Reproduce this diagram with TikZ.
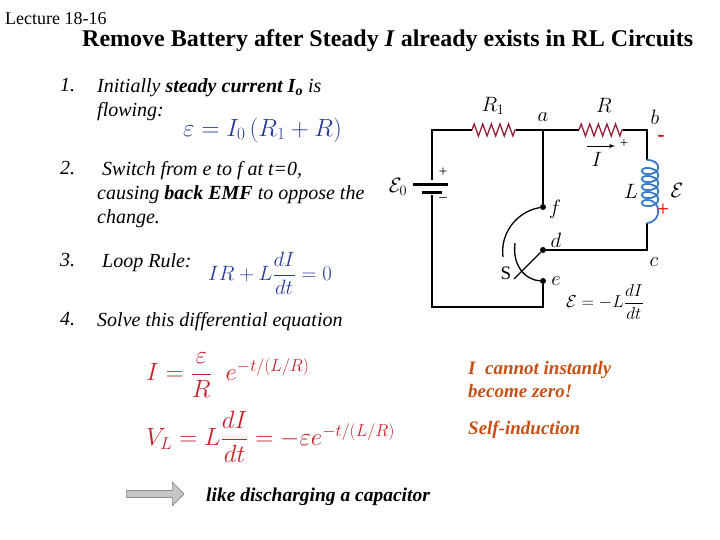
\documentclass[tikz,border=0pt]{standalone}
\usepackage{fontspec}
\setmainfont{Liberation Serif}
\usepackage{amsmath}
\usetikzlibrary{decorations.pathmorphing,shapes.arrows}
\definecolor{eqblue}{RGB}{40,60,150}
\definecolor{eqred}{RGB}{200,30,40}
\definecolor{orng}{RGB}{200,80,20}
\definecolor{maroon}{RGB}{150,30,60}
\definecolor{coil}{RGB}{60,120,200}
\tikzset{
  item/.style={anchor=north west,font=\fontsize{20}{24}\selectfont\itshape,align=left,inner sep=0},
  wire/.style={line width=1.3pt,black},
  res/.style={line width=1.3pt,maroon,decorate,decoration={zigzag,segment length=8.6pt,amplitude=6pt}},
  lab/.style={font=\fontsize{21}{21}\selectfont\itshape,inner sep=1pt},
  dot/.style={circle,fill=black,inner sep=0,minimum size=6pt},
}
\begin{document}
\begin{tikzpicture}[x=1pt,y=-1pt]
\useasboundingbox (0,0) rectangle (720,540);
\node[anchor=west,inner sep=0,font=\fontsize{18}{18}\selectfont] (lec) at (5,19) {Lecture 18-16};
\node[anchor=west,inner sep=0,font=\fontsize{24}{24}\selectfont\bfseries] (title) at (82,41) {Remove Battery after Steady \textit{I} already exists in RL Circuits};

\node[item] (n1) at (60,78) {1.};
\node[item] (t1) at (97,78) {Initially \textbf{steady current I\textsubscript{o}} is\\flowing:};
\node[anchor=west,text=eqblue,font=\fontsize{26}{26}\selectfont,inner sep=0] (e1) at (183,130) {$\varepsilon = I_0\left(R_1+R\right)$};
\node[item] (n2) at (60,161) {2.};
\node[item] (t2) at (97,161) {\ Switch from e to f at t=0,\\causing \textbf{back EMF} to oppose the\\change.};
\node[item] (n3) at (60,253) {3.};
\node[item] (t3) at (97,253) {\ Loop Rule:};
\node[anchor=west,text=eqblue,font=\fontsize{21}{21}\selectfont,inner sep=0] (e3) at (208,273) {$IR + L\dfrac{dI}{dt} = 0$};
\node[item] (n4) at (60,312) {4.};
\node[item] (t4) at (97,312) {Solve this differential equation};

\node[anchor=west,text=eqred,font=\fontsize{26}{26}\selectfont,inner sep=0] (e4) at (146,375) {$I = \dfrac{\varepsilon}{R}\;\; e^{-t/(L/R)}$};
\node[anchor=west,text=eqred,font=\fontsize{26}{26}\selectfont,inner sep=0] (e5) at (146,437) {$V_L = L\dfrac{dI}{dt} = -\varepsilon e^{-t/(L/R)}$};
\node[single arrow,draw=gray!70!black,fill=gray!45,minimum height=58pt,minimum width=24pt,single arrow head extend=3pt,inner sep=1pt,anchor=west] (arr) at (126,494) {};
\node[anchor=west,inner sep=0,font=\fontsize{19.5}{19.5}\selectfont\bfseries\itshape] (like) at (206,497) {like discharging a capacitor};
\node[anchor=north west,inner sep=0,align=left,text=orng,font=\fontsize{19}{23}\selectfont\bfseries\itshape] (nz) at (468,361) {I\ \ cannot instantly\\become zero!};
\node[anchor=north west,inner sep=0,text=orng,font=\fontsize{19}{23}\selectfont\bfseries\itshape] (si) at (468,421) {Self-induction};

% circuit
\coordinate (tl) at (432,130); \coordinate (bl) at (432,307);
\coordinate (r1a) at (472,130); \coordinate (r1b) at (516,130);
\coordinate (a) at (543,130);
\coordinate (ra) at (579,130); \coordinate (rb) at (623,130);
\coordinate (b) at (647,130);
\coordinate (la) at (647,160); \coordinate (lb) at (647,223);
\coordinate (c) at (647,250);
\coordinate (br) at (543,307);
\coordinate (bt1) at (432,180); \coordinate (bt2) at (432,195);
\node[dot] (f) at (543,207) {};
\node[dot] (d) at (543,250) {};
\node[dot] (e) at (543,281) {};
\draw[wire] (bt1) -- (tl) -- (r1a);
\draw[res] (r1a) -- (r1b);
\draw[wire] (r1b) -- (ra);
\draw[res] (ra) -- (rb);
\draw[wire] (rb) -- (b) -- (la);
\draw[wire] (lb) -- (c) -- (d);
\draw[wire] (a) -- (f);
\draw[wire] (e) -- (br) -- (bl) -- (bt2);
\draw[line width=3pt] (413,185) -- (448,185);
\draw[line width=3pt] (422,193) -- (442,193);
\draw[coil,line width=1.8pt] (la) .. controls (662,160) and (662,175) .. (647,174)
  .. controls (640,174) and (640,168) .. (647,168)
  .. controls (662,168) and (662,183) .. (647,182)
  .. controls (640,182) and (640,176) .. (647,176)
  .. controls (662,176) and (662,191) .. (647,190)
  .. controls (640,190) and (640,184) .. (647,184)
  .. controls (662,184) and (662,199) .. (647,198)
  .. controls (640,198) and (640,192) .. (647,192)
  .. controls (662,192) and (662,207) .. (647,206)
  .. controls (640,206) and (640,200) .. (647,200)
  .. controls (662,200) and (662,222) .. (lb);
% switch
\coordinate (sw) at (514,279);
\draw[line width=1.3pt] (d) -- (sw);
\draw[line width=1.3pt] (f) .. controls (515,212) and (500,235) .. (503,257);
\draw[line width=1.3pt] (515,243) .. controls (512,265) and (525,280) .. (e);
% labels
\node[lab,above=2pt] (lr1) at (493,118) {$R_1$};
\node[lab] (lR) at (604,105) {$R$};
\node[lab] (la1) at (543,117) {$a$};
\node[lab] (lbb) at (655,117) {$b$};
\node[lab] (lc) at (654,262) {$c$};
\node[lab] (ld) at (556,240) {$d$};
\node[lab] (lf) at (555,209) {$f$};
\node[lab] (le) at (556,281) {$e$};
\node[lab,font=\fontsize{19}{19}\selectfont] (lS) at (506,273) {S};
\node[lab] (lL) at (631,191) {$L$};
\node[lab] (lE) at (677,190) {$\mathcal{E}$};
\node[lab] (lE0) at (398,187) {$\mathcal{E}_0$};
\node[font=\fontsize{15}{15}\selectfont,inner sep=0] (pl) at (443,172) {+};
\node[font=\fontsize{15}{15}\selectfont,inner sep=0] (mn) at (443,200) {--};
\node[font=\fontsize{22}{22}\selectfont\bfseries,text=red,inner sep=0] (bm) at (661,138) {-};
\node[font=\fontsize{22}{22}\selectfont,text=red,inner sep=0] (cp) at (663,210) {+};
\coordinate (ia) at (587,146); \coordinate (ib) at (615,146);
\draw[-latex,line width=0.9pt] (ia) -- (ib);
\node[font=\fontsize{14}{14}\selectfont,inner sep=0] (ip) at (624,144) {+};
\node[lab] (lI) at (597,159) {$I$};
\node[anchor=west,inner sep=0,font=\fontsize{19}{19}\selectfont] (eL) at (566,302) {$\mathcal{E} = -L\dfrac{dI}{dt}$};
\end{tikzpicture}
\end{document}
